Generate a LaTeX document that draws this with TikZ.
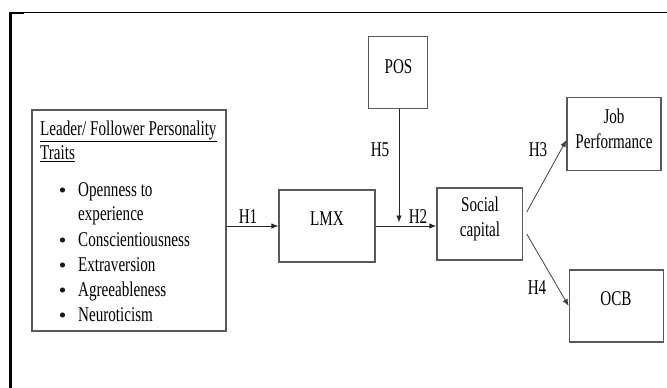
\documentclass[tikz,border=0pt]{standalone}
\usepackage{fontspec}
\setmainfont{Liberation Serif}[FakeStretch=0.72]
\usetikzlibrary{arrows.meta}
\begin{document}
\begin{tikzpicture}[x=1pt,y=-1pt,
  font=\fontsize{21}{25}\selectfont,
  box/.style={draw=black!65, line width=1.2pt, inner sep=0pt},
  txt/.style={inner sep=0pt, align=center},
  ltxt/.style={inner sep=0pt, anchor=base west},
  dot/.style={circle, fill=black!90, inner sep=0pt, minimum width=4.6pt, minimum height=5.2pt},
  conn/.style={draw=black!85, line width=0.9pt, -{Latex[length=7pt,width=5.5pt]}},
  hlab/.style={inner sep=0pt}]
\useasboundingbox (0,0) rectangle (667,388);
% frame
\draw[line width=1pt] (9,12.5) -- (667,12.5);
\draw[line width=2pt] (9,12.5) -- (24,12.5);
\draw[line width=2.5pt] (10.5,11.5) -- (10.5,388);
% boxes
\node[box, minimum width=194pt, minimum height=221pt] (leader) at (129,220.5) {};
\node[box, minimum width=96pt, minimum height=72pt] (lmx) at (327,226) {};
\node[box, minimum width=59.5pt, minimum height=72.5pt] (pos) at (398,72.5) {};
\node[box, minimum width=85.7pt, minimum height=72pt] (sc) at (479.8,224) {};
\node[box, minimum width=94pt, minimum height=72.5pt] (jp) at (614,134) {};
\node[box, minimum width=94pt, minimum height=72pt] (ocb) at (616.3,306) {};
% texts
\node[txt] (lmxT) at (327,219) {LMX};
\node[txt] (posT) at (398.5,66.5) {POS};
\node[txt] (scT) at (480,219) {Social\\capital};
\node[txt] (jpT) at (614,129) {Job\\Performance};
\node[txt] (ocbT) at (616,299) {OCB};
\node[ltxt] (t1) at (40,135.5) {\underline{Leader/ Follower Personality}};
\node[ltxt] (t2) at (40,159.5) {\underline{Traits}};
\node[dot] (d1) at (62.5,190) {};
\node[ltxt] (b1) at (78,196.5) {Openness to};
\node[ltxt] (b1b) at (78,220) {experience};
\node[dot] (d2) at (62.5,240) {};
\node[ltxt] (b2) at (78,246.5) {Conscientiousness};
\node[dot] (d3) at (62.5,265) {};
\node[ltxt] (b3) at (78,271.5) {Extraversion};
\node[dot] (d4) at (62.5,290) {};
\node[ltxt] (b4) at (78,296.5) {Agreeableness};
\node[dot] (d5) at (62.5,315) {};
\node[ltxt] (b5) at (78,321.5) {Neuroticism};
% connectors
\draw[conn] (leader.east |- lmx.west) -- (lmx.west);
\draw[conn] (lmx.east) -- (sc.west |- lmx.east);
\coordinate (posEnd) at (399,222.5);
\draw[conn] (pos.south -| posEnd) -- (posEnd);
\coordinate (h3s) at ([shift={(3.5,-12)}]sc.east);
\coordinate (h3e) at ([shift={(0,6)}]jp.west);
\draw[conn, draw=black!75, line width=0.8pt] (h3s) -- (h3e);
\coordinate (h4s) at ([shift={(3.5,10)}]sc.east);
\draw[conn, draw=black!75, line width=0.8pt] (h4s) -- (ocb.west);
% labels
\node[hlab] (H1) at (248,217) {H1};
\node[hlab] (H2) at (418,217) {H2};
\node[hlab] (H5) at (380,150) {H5};
\node[hlab] (H3) at (538,150) {H3};
\node[hlab] (H4) at (537,288) {H4};
\end{tikzpicture}
\end{document}
